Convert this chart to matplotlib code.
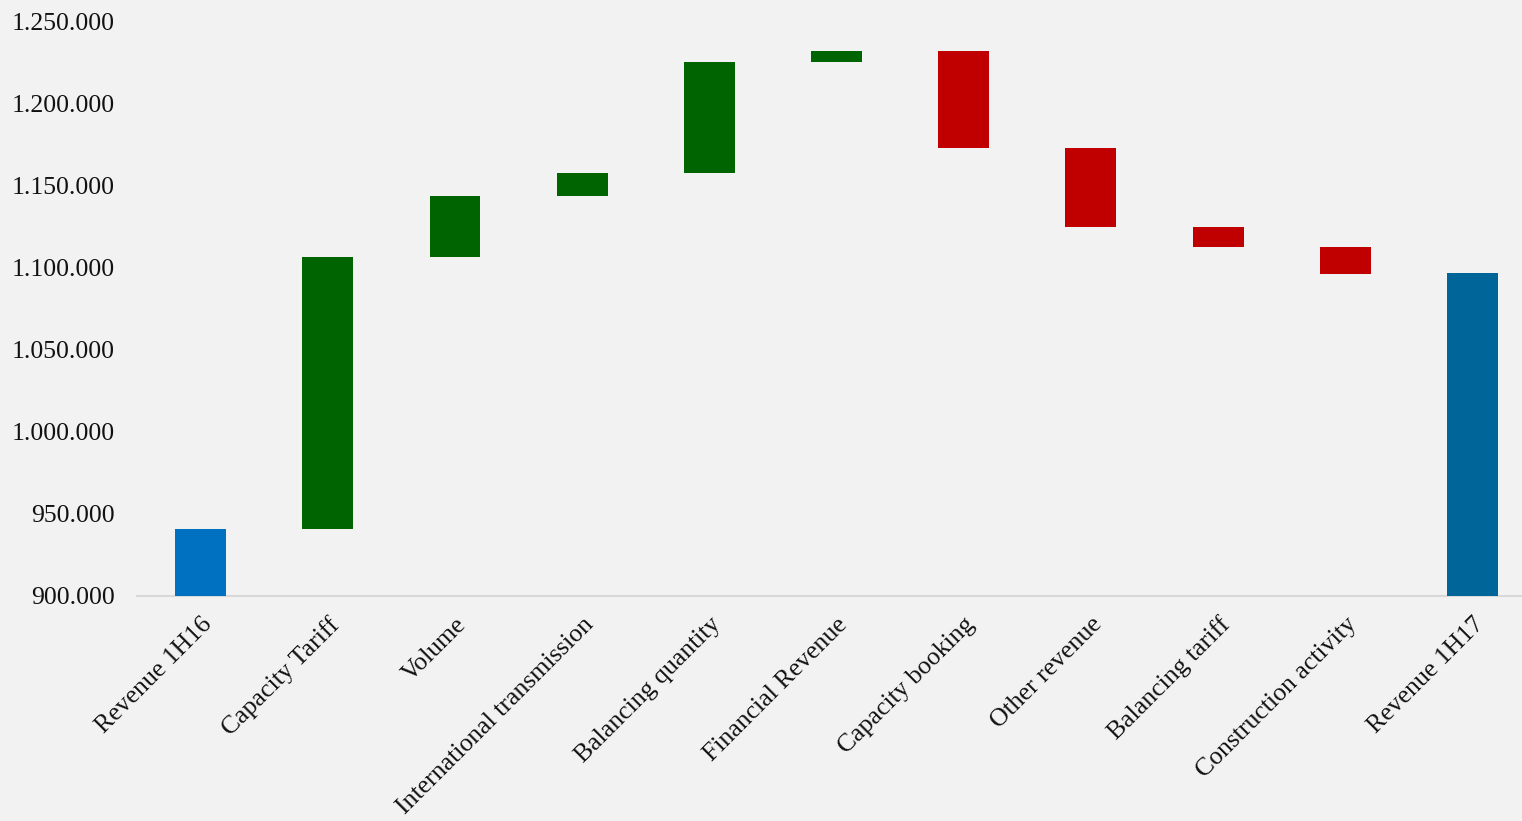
import matplotlib
matplotlib.use("Agg")
import matplotlib.pyplot as plt
from matplotlib.ticker import FuncFormatter, MultipleLocator

categories = ["Revenue 1H16", "Capacity Tariff", "Volume", "International transmission",
              "Balancing quantity", "Financial Revenue", "Capacity booking", "Other revenue",
              "Balancing tariff", "Construction activity", "Revenue 1H17"]
start_total = 940500
changes = [165750, 37150, 14030, 67630, 6700, -59100, -48130, -12190, -16450]
end_total = 1096500

c_start = "#0070C0"
c_up = "#006400"
c_down = "#C00000"
c_end = "#00669A"
bg = "#F2F2F2"

bottoms, heights, colors = [], [], []
bottoms.append(0); heights.append(start_total); colors.append(c_start)
level = start_total
for d in changes:
    if d >= 0:
        bottoms.append(level); heights.append(d); colors.append(c_up)
    else:
        bottoms.append(level + d); heights.append(-d); colors.append(c_down)
    level += d
bottoms.append(0); heights.append(end_total); colors.append(c_end)

fig = plt.figure(figsize=(15.22, 8.21), dpi=100, facecolor=bg)
ax = fig.add_axes([137/1522, 1 - 595.5/821, 1 - 137/1522, (595.5 - 21)/821])
ax.set_facecolor(bg)

x = list(range(len(categories)))
ax.bar(x, heights, bottom=bottoms, width=0.40, color=colors, zorder=2)

ax.set_ylim(900000, 1250000)
ax.set_xlim(-0.5, 10 + (1522 - 1472.5) / 127.2)
ax.yaxis.set_major_locator(MultipleLocator(50000))
ax.yaxis.set_major_formatter(FuncFormatter(lambda v, p: f"{int(round(v)):,}".replace(",", ".")))

for s in ["top", "right", "left"]:
    ax.spines[s].set_visible(False)
ax.spines["bottom"].set_color("#D9D9D9")
ax.spines["bottom"].set_linewidth(1.5)
ax.spines["bottom"].set_zorder(1)

font = "Liberation Serif"
ax.tick_params(axis="y", length=0, pad=16, labelsize=18.5, labelcolor="#111111")
ax.tick_params(axis="x", length=0, pad=13, labelsize=18.5, labelcolor="#111111")
ax.set_xticks(x)
ax.set_xticklabels(categories, rotation=45, ha="right", rotation_mode="anchor")
for lab in ax.get_xticklabels() + ax.get_yticklabels():
    lab.set_fontfamily(font)

fig.savefig("out.png", dpi=100, facecolor=bg)
